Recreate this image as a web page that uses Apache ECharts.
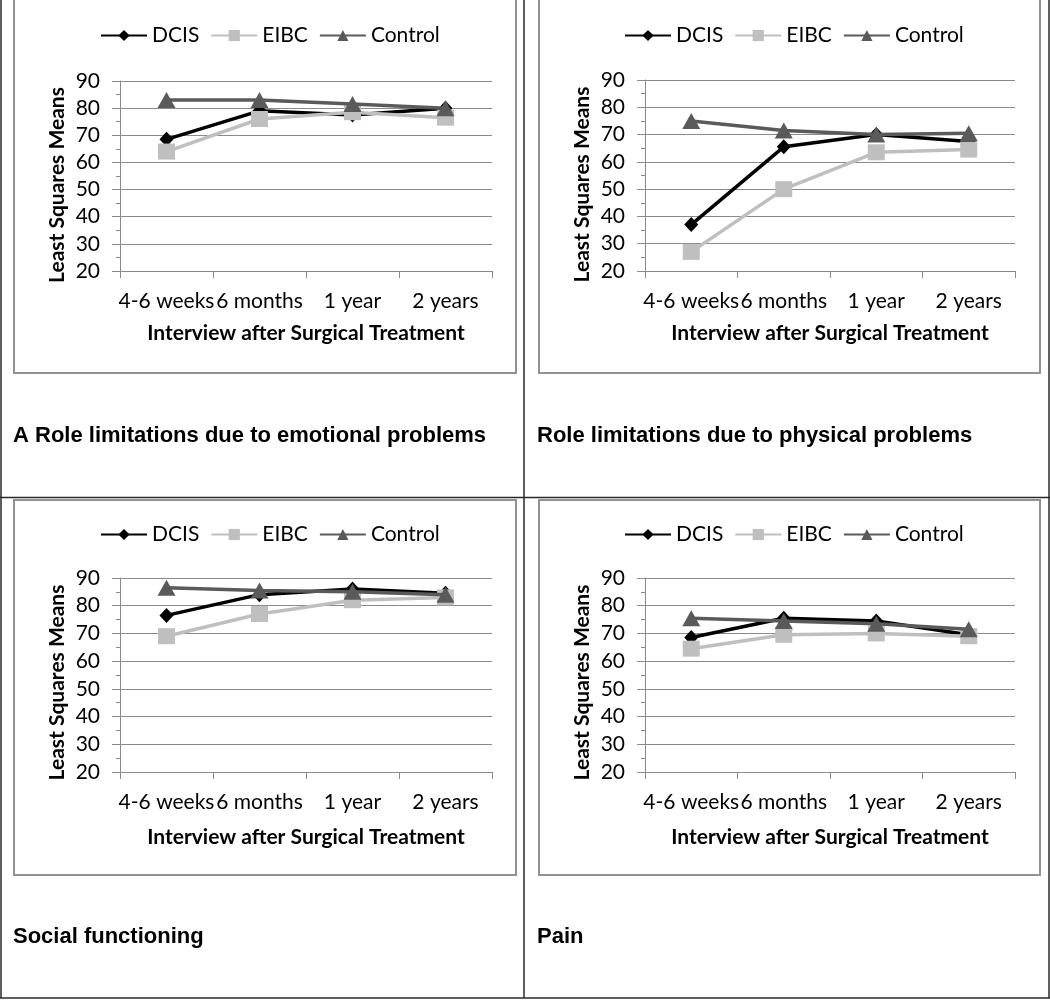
<!DOCTYPE html>
<html>
<head>
<meta charset="utf-8">
<script src="https://cdn.jsdelivr.net/npm/echarts@6/dist/echarts.min.js"></script>
<style>
html,body{margin:0;padding:0;background:#fff;}
#c{width:1050px;height:1000px;}
</style>
</head>
<body>
<div id="c"></div>
<script>
const categories = ['4-6 weeks', '6 months', '1 year', '2 years'];
const seriesNames = ['DCIS', 'EIBC', 'Control'];
const yMin = 20, yMax = 90, yStep = 10;
const captions = [
  'A Role limitations due to emotional problems',
  'Role limitations due to physical problems',
  'Social functioning',
  'Pain'
];
const xTitle = 'Interview after Surgical Treatment';
const yTitle = 'Least Squares Means';

// Panel A: Role limitations due to emotional problems
const dcisA = [68.5, 79, 77.5, 80];
const eibcA = [64, 76, 78.5, 76.5];
const controlA = [83, 83, 81.5, 80];
// Panel B: Role limitations due to physical problems
const dcisB = [37, 65.5, 70, 67.5];
const eibcB = [27, 50, 63.5, 64.5];
const controlB = [75, 71.5, 70, 70.5];
// Panel C: Social functioning
const dcisC = [76.5, 84, 86, 84.5];
const eibcC = [69, 77, 82, 83];
const controlC = [86.5, 85.5, 85, 84];
// Panel D: Pain
const dcisD = [68.5, 75.5, 74.5, 69.5];
const eibcD = [64.5, 69.5, 70, 69];
const controlD = [75.5, 74.5, 73.5, 71.5];

const panels = [
  [dcisA, eibcA, controlA],
  [dcisB, eibcB, controlB],
  [dcisC, eibcC, controlC],
  [dcisD, eibcD, controlD]
];

// layout (pixels)
const grids = [
  {left: 120, top: 81, width: 372, height: 190},
  {left: 645, top: 80, width: 370, height: 191},
  {left: 120, top: 578, width: 372, height: 194},
  {left: 645, top: 578, width: 370, height: 194}
];
const xNameGaps = [52, 52, 55, 55];
const yNamePad = [18, 18, 15, 15];
const legendPos = [
  {left: 100, top: 25}, {left: 624, top: 25},
  {left: 100, top: 524}, {left: 624, top: 524}
];
const captionPos = [
  {left: 13, top: 425}, {left: 537, top: 425},
  {left: 13, top: 926}, {left: 537, top: 926}
];
const boxes = [
  {x: 14, y: -5, w: 502, h: 378},
  {x: 539, y: -5, w: 501, h: 378},
  {x: 14, y: 500, w: 502, h: 375},
  {x: 539, y: 500, w: 501, h: 375}
];

const styles = [
  {color: '#000000', symbol: 'diamond', size: [14, 15]},
  {color: '#BFBFBF', symbol: 'rect', size: [17, 16]},
  {color: '#5A5A5A', symbol: 'triangle', size: [18, 16]}
];
const chartFont = 'Lato, "Open Sans", sans-serif';
const gridColor = '#8A8A8A';

const option = {
  backgroundColor: '#ffffff',
  animation: false,
  grid: grids.map(g => Object.assign({containLabel: false}, g)),
  legend: legendPos.map(p => ({
    left: p.left, top: p.top,
    data: seriesNames,
    itemWidth: 46, itemHeight: 14, itemGap: 11,
    padding: 0,
    selectedMode: false,
    textStyle: {fontFamily: chartFont, fontSize: 21, color: '#000'}
  })),
  title: captions.map((t, i) => ({
    text: t, left: captionPos[i].left, top: captionPos[i].top, padding: 0,
    textStyle: {fontFamily: '"Liberation Sans", Arial, sans-serif', fontWeight: 'bold', fontSize: 22, color: '#000'}
  })),
  xAxis: grids.map((g, i) => ({
    type: 'category', gridIndex: i, data: categories, boundaryGap: true,
    name: xTitle, nameLocation: 'middle', nameGap: xNameGaps[i],
    nameTextStyle: {fontFamily: chartFont, fontWeight: 'bold', fontSize: 21, color: '#000'},
    axisLine: {show: true, lineStyle: {color: gridColor, width: 1}},
    axisTick: {show: true, length: 7, alignWithLabel: false, lineStyle: {color: gridColor}},
    axisLabel: {interval: 0, margin: 20, fontFamily: chartFont, fontSize: 21, color: '#000'},
    splitLine: {show: false}
  })),
  yAxis: grids.map((g, i) => ({
    type: 'value', gridIndex: i, min: yMin, max: yMax, interval: yStep,
    name: yTitle, nameLocation: 'middle', nameGap: 52, nameRotate: 90,
    nameTextStyle: {fontFamily: chartFont, fontWeight: 'bold', fontSize: 21, color: '#000',
      padding: [0, yNamePad[i], 0, 0]},
    axisLine: {show: true, lineStyle: {color: gridColor, width: 1}},
    axisTick: {show: true, length: 8, lineStyle: {color: gridColor}},
    minorTick: {show: true, splitNumber: 2, length: 4, lineStyle: {color: gridColor}},
    axisLabel: {margin: 20, fontFamily: chartFont, fontSize: 21, color: '#000'},
    splitLine: {show: true, lineStyle: {color: gridColor, width: 1}}
  })),
  series: [],
  graphic: []
};

panels.forEach((vals, i) => {
  vals.forEach((arr, k) => {
    const s = styles[k];
    option.series.push({
      name: seriesNames[k], type: 'line', xAxisIndex: i, yAxisIndex: i,
      data: arr, symbol: s.symbol, symbolSize: s.size, showSymbol: true,
      lineStyle: {color: s.color, width: 3.5},
      itemStyle: {color: s.color, borderWidth: 0},
      z: 2 + k
    });
  });
});

boxes.forEach(b => {
  option.graphic.push({
    type: 'rect', shape: {x: b.x, y: b.y, width: b.w, height: b.h},
    style: {fill: null, stroke: '#929292', lineWidth: 2}, silent: true
  });
});
const tableLines = [
  [1, 0, 1, 998], [1049, 0, 1049, 998], [0, 998, 1050, 998],
  [524, 0, 524, 998], [0, 497.5, 1050, 497.5]
];
tableLines.forEach(l => {
  option.graphic.push({
    type: 'line', shape: {x1: l[0], y1: l[1], x2: l[2], y2: l[3]},
    style: {stroke: '#2a2a2a', lineWidth: 1.5}, silent: true
  });
});

const chart = echarts.init(document.getElementById('c'), null, {renderer: 'canvas'});
chart.setOption(option);
</script>
</body>
</html>
